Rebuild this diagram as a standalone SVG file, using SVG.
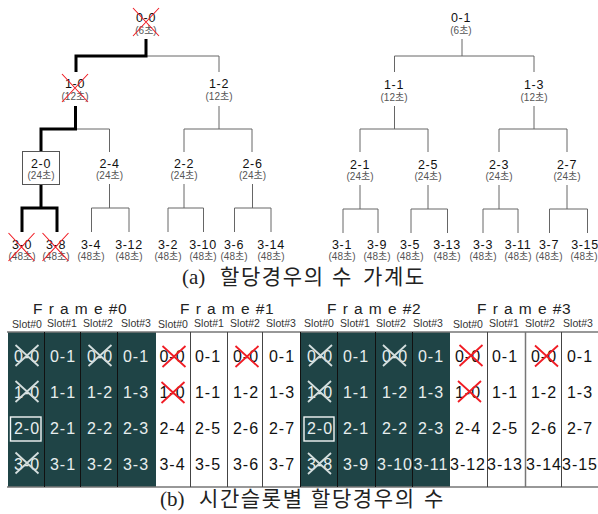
<svg xmlns="http://www.w3.org/2000/svg" width="598" height="514" viewBox="0 0 598 514">
<style>
text{font-family:"Liberation Sans","Noto Sans CJK KR",sans-serif;text-anchor:middle}
.n{font-size:12.5px;fill:#111;letter-spacing:.6px}
.s{font-size:10px;fill:#555}
.c{font-size:16px;letter-spacing:1px}
.k{fill:#111}
.w{fill:#e8eeee}
.sl{font-size:10.5px;fill:#333}
.f{font-size:15.5px;fill:#222;letter-spacing:.5px}
.fs{letter-spacing:6.2px}
.cap{font-family:"Liberation Serif","Noto Sans CJK KR",serif;font-size:21px;fill:#222;text-anchor:start}
.h{letter-spacing:1.6px}
.t{fill:none;stroke:#666;stroke-width:1}
.b{fill:none;stroke:#000;stroke-width:3}
.v{stroke:#111;stroke-width:1}
.x{stroke:#f01c24;stroke-width:1.1;fill:none}
.xg{stroke:#f01c24;stroke-width:1.8;fill:none}
.xw{stroke:#d4dede;stroke-width:1.8;fill:none}
.box{fill:none;stroke:#f2f6f6;stroke-width:1.4}
</style>
<defs>
<path id="x1" d="M-13-14L13 14M13-14L-13 14"/>
<path id="x2" d="M-11.500-10.500L11.500 10.500M11.500-10.500L-11.500 10.500"/>
</defs>

<g id="connectors">
<path class="t" d="M146 56H219V72M219 106V129M184 152V129H252V152M76 129H109.500V152M109.500 184V208M91.500 232V208H129V232M184 184V208M168 232V208H203.500V232M252.500 184V208M234.500 232V208H271V232"/>
<path class="t" d="M462 39V56M394.500 72V56H534V72M394.500 106V129M360 152V129H428V152M534 106V129M499 152V129H567V152M360 185V209M343 233V209H378V233M428 185V209M411 233V209H447.500V233M499 185V209M483 233V209H518V233M567 185V209M549.500 233V209H587.500V233"/>
<path class="b" d="M146 39V56H76V72M75.500 106V129H41V151M41 184V208M22 232V208H57V232"/>
</g>

<g id="n0-0"><text class="n" x="146" y="22">0-0</text><text class="s" x="146" y="34">(6초)</text><use href="#x1" class="x" x="146" y="22"/></g>
<g id="n0-1"><text class="n" x="461" y="22">0-1</text><text class="s" x="461" y="34">(6초)</text></g>
<g id="n1-0"><text class="n" x="75" y="88">1-0</text><text class="s" x="75" y="100">(12초)</text><use href="#x1" class="x" x="75" y="88"/></g>
<g id="n1-2"><text class="n" x="219" y="88">1-2</text><text class="s" x="219" y="100">(12초)</text></g>
<g id="n1-1"><text class="n" x="394" y="89">1-1</text><text class="s" x="394" y="101">(12초)</text></g>
<g id="n1-3"><text class="n" x="534" y="89">1-3</text><text class="s" x="534" y="101">(12초)</text></g>
<g id="n2-0"><rect x="22.500" y="151.500" width="37" height="33" fill="#fff" stroke="#555"/><text class="n" x="41" y="168">2-0</text><text class="s" x="41" y="179">(24초)</text></g>
<g id="n2-4"><text class="n" x="109.500" y="168">2-4</text><text class="s" x="109.500" y="179">(24초)</text></g>
<g id="n2-2"><text class="n" x="184" y="168">2-2</text><text class="s" x="184" y="179">(24초)</text></g>
<g id="n2-6"><text class="n" x="252.500" y="168">2-6</text><text class="s" x="252.500" y="179">(24초)</text></g>
<g id="n2-1"><text class="n" x="360" y="169">2-1</text><text class="s" x="360" y="180">(24초)</text></g>
<g id="n2-5"><text class="n" x="428" y="169">2-5</text><text class="s" x="428" y="180">(24초)</text></g>
<g id="n2-3"><text class="n" x="499" y="169">2-3</text><text class="s" x="499" y="180">(24초)</text></g>
<g id="n2-7"><text class="n" x="567" y="169">2-7</text><text class="s" x="567" y="180">(24초)</text></g>
<g id="n3-0"><text class="n" x="22" y="249">3-0</text><text class="s" x="22" y="260">(48초)</text><use href="#x1" class="x" x="21.500" y="247"/></g>
<g id="n3-8"><text class="n" x="56" y="249">3-8</text><text class="s" x="56" y="260">(48초)</text><use href="#x1" class="x" x="55.500" y="247"/></g>
<g id="n3-4"><text class="n" x="91" y="249">3-4</text><text class="s" x="91" y="260">(48초)</text></g>
<g id="n3-12"><text class="n" x="129" y="249">3-12</text><text class="s" x="129" y="260">(48초)</text></g>
<g id="n3-2"><text class="n" x="168" y="249">3-2</text><text class="s" x="168" y="260">(48초)</text></g>
<g id="n3-10"><text class="n" x="203" y="249">3-10</text><text class="s" x="203" y="260">(48초)</text></g>
<g id="n3-6"><text class="n" x="234" y="249">3-6</text><text class="s" x="234" y="260">(48초)</text></g>
<g id="n3-14"><text class="n" x="271" y="249">3-14</text><text class="s" x="271" y="260">(48초)</text></g>
<g id="n3-1"><text class="n" x="342" y="249">3-1</text><text class="s" x="342" y="260">(48초)</text></g>
<g id="n3-9"><text class="n" x="377" y="249">3-9</text><text class="s" x="377" y="260">(48초)</text></g>
<g id="n3-5"><text class="n" x="410" y="249">3-5</text><text class="s" x="410" y="260">(48초)</text></g>
<g id="n3-13"><text class="n" x="447" y="249">3-13</text><text class="s" x="447" y="260">(48초)</text></g>
<g id="n3-3"><text class="n" x="483" y="249">3-3</text><text class="s" x="483" y="260">(48초)</text></g>
<g id="n3-11"><text class="n" x="518" y="249">3-11</text><text class="s" x="518" y="260">(48초)</text></g>
<g id="n3-7"><text class="n" x="549" y="249">3-7</text><text class="s" x="549" y="260">(48초)</text></g>
<g id="n3-15"><text class="n" x="585" y="249">3-15</text><text class="s" x="584" y="260">(48초)</text></g>

<text class="cap" y="284"><tspan x="182">(a)</tspan><tspan class="h" x="220">할당경우의</tspan><tspan x="332">수</tspan><tspan class="h" x="363">가계도</tspan></text>

<g id="grid">
<rect x="8" y="332" width="148" height="155" fill="#1f4446"/>
<rect x="300" y="332" width="150" height="155" fill="#1f4446"/>
<path d="M7 332H598M7 487H598" stroke="#777" stroke-width="1.500" fill="none"/>
<path class="v" d="M44.500 332V487M80.500 332V487M117.500 332V487M300.500 332V487M337.500 332V487M375.500 332V487M412.500 332V487"/>
<path d="M190.500 332V487M227.500 332V487M262.500 332V487M487.500 332V487M561.500 332V487" stroke="#444" stroke-width="1"/>
<path d="M525.500 332V487" stroke="#777" stroke-width="1.500"/>
</g>

<g id="frame0">
<text class="f" x="80" y="314"><tspan class="fs">Frame</tspan>#0</text>
<g><text class="sl" x="27" y="328">Slot#0</text><text class="sl" x="62" y="327">Slot#1</text><text class="sl" x="98" y="327">Slot#2</text><text class="sl" x="136" y="327">Slot#3</text></g>
<g class="c w">
<text x="27" y="362">0-0</text><text x="63" y="362">0-1</text><text x="100" y="362">0-0</text><text x="136" y="362">0-1</text>
<text x="27" y="398">1-0</text><text x="63" y="398">1-1</text><text x="100" y="398">1-2</text><text x="136" y="398">1-3</text>
<text x="27" y="434">2-0</text><text x="63" y="434">2-1</text><text x="100" y="434">2-2</text><text x="136" y="434">2-3</text>
<text x="27" y="470">3-0</text><text x="63" y="470">3-1</text><text x="100" y="470">3-2</text><text x="136" y="470">3-3</text>
</g>
<rect class="box" x="10.500" y="417" width="30.500" height="24"/>
<g class="xw"><use href="#x2" x="27" y="355.500"/><use href="#x2" x="27" y="391.500"/><use href="#x2" x="27" y="463"/><use href="#x2" x="100" y="355.500"/></g>
</g>

<g id="frame1">
<text class="f" x="227" y="314"><tspan class="fs">Frame</tspan>#1</text>
<g><text class="sl" x="173" y="328">Slot#0</text><text class="sl" x="209" y="327">Slot#1</text><text class="sl" x="245" y="327">Slot#2</text><text class="sl" x="281" y="327">Slot#3</text></g>
<g class="c k">
<text x="172.500" y="362">0-0</text><text x="208" y="362">0-1</text><text x="246" y="362">0-0</text><text x="282" y="362">0-1</text>
<text x="172.500" y="398">1-0</text><text x="208" y="398">1-1</text><text x="246" y="398">1-2</text><text x="282" y="398">1-3</text>
<text x="172.500" y="434">2-4</text><text x="208" y="434">2-5</text><text x="246" y="434">2-6</text><text x="282" y="434">2-7</text>
<text x="172.500" y="470">3-4</text><text x="208" y="470">3-5</text><text x="246" y="470">3-6</text><text x="282" y="470">3-7</text>
</g>
<g class="xg"><use href="#x2" x="174" y="356.500"/><use href="#x2" x="173" y="392.500"/><use href="#x2" x="247" y="356.500"/></g>
</g>

<g id="frame2">
<text class="f" x="374" y="314"><tspan class="fs">Frame</tspan>#2</text>
<g><text class="sl" x="319" y="327">Slot#0</text><text class="sl" x="355" y="327">Slot#1</text><text class="sl" x="391" y="327">Slot#2</text><text class="sl" x="428" y="327">Slot#3</text></g>
<g class="c w">
<text x="320" y="362">0-0</text><text x="356" y="362">0-1</text><text x="395" y="362">0-0</text><text x="431" y="362">0-1</text>
<text x="320" y="398">1-0</text><text x="356" y="398">1-1</text><text x="395" y="398">1-2</text><text x="431" y="398">1-3</text>
<text x="320" y="434">2-0</text><text x="356" y="434">2-1</text><text x="395" y="434">2-2</text><text x="431" y="434">2-3</text>
<text x="320" y="470">3-8</text><text x="356" y="470">3-9</text><text x="395" y="470">3-10</text><text x="431" y="470">3-11</text>
</g>
<rect class="box" x="304" y="417" width="30" height="24"/>
<g class="xw"><use href="#x2" x="320.500" y="355.500"/><use href="#x2" x="319.500" y="391.500"/><use href="#x2" x="394.500" y="355.500"/><use href="#x2" x="319.500" y="463.500"/></g>
</g>

<g id="frame3">
<text class="f" x="524" y="314"><tspan class="fs">Frame</tspan>#3</text>
<g><text class="sl" x="468" y="328">Slot#0</text><text class="sl" x="504" y="327">Slot#1</text><text class="sl" x="540" y="327">Slot#2</text><text class="sl" x="578" y="327">Slot#3</text></g>
<g class="c k">
<text x="468" y="362">0-0</text><text x="505" y="362">0-1</text><text x="544" y="362">0-0</text><text x="580" y="362">0-1</text>
<text x="468" y="398">1-0</text><text x="505" y="398">1-1</text><text x="544" y="398">1-2</text><text x="580" y="398">1-3</text>
<text x="468" y="434">2-4</text><text x="505" y="434">2-5</text><text x="544" y="434">2-6</text><text x="580" y="434">2-7</text>
<text x="468" y="470">3-12</text><text x="505" y="470">3-13</text><text x="544" y="470">3-14</text><text x="580" y="470">3-15</text>
</g>
<g class="xg"><use href="#x2" x="471" y="355.500"/><use href="#x2" x="469.500" y="391.500"/><use href="#x2" x="546.500" y="356"/></g>
</g>

<text class="cap" y="506"><tspan x="160">(b)</tspan><tspan class="h" x="199">시간슬롯별</tspan><tspan class="h" x="311">할당경우의</tspan><tspan x="424">수</tspan></text>
</svg>
